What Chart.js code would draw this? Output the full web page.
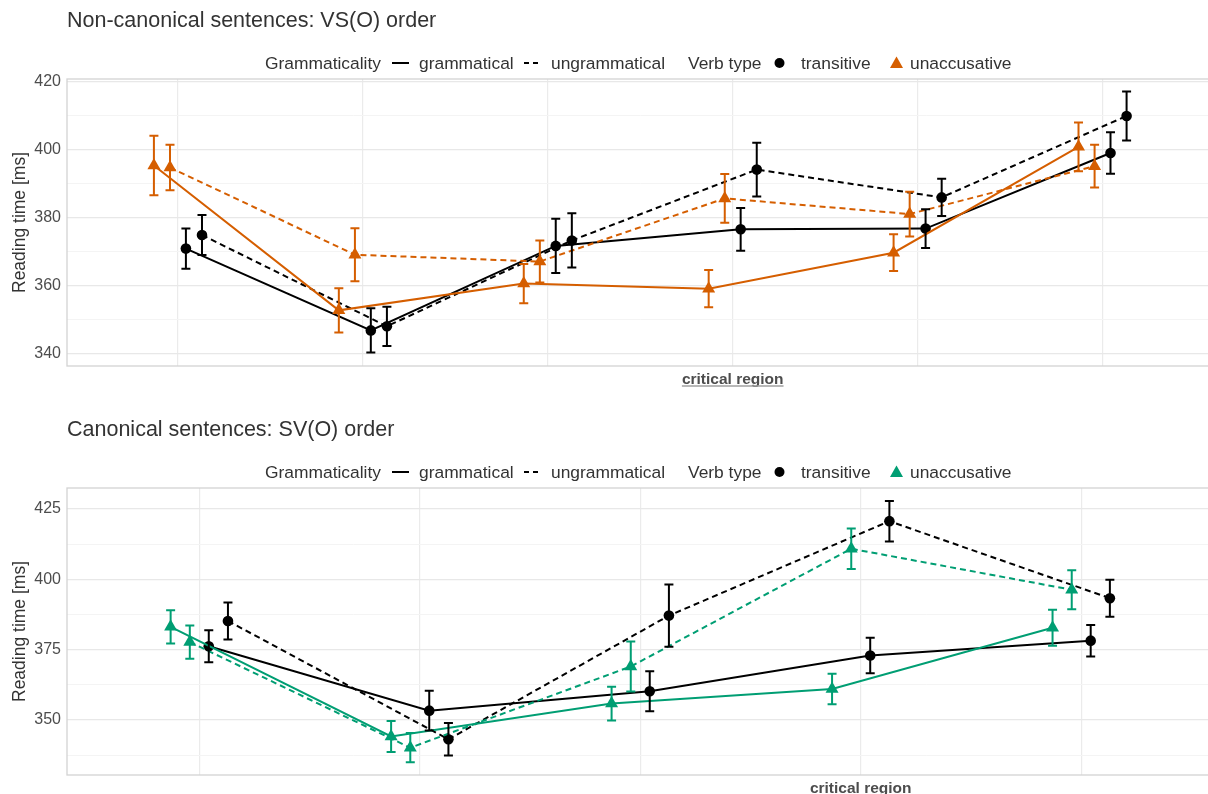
<!DOCTYPE html>
<html><head><meta charset="utf-8">
<script src="https://cdn.jsdelivr.net/npm/chart.js@4.4.1/dist/chart.umd.min.js"></script>
<style>
html,body{margin:0;padding:0;background:#fff;overflow:hidden}
#wrap{position:relative;width:1208px;height:794px;overflow:hidden;background:#fff;font-family:"Liberation Sans",Arial,sans-serif}
.panel{position:absolute;left:0;width:1221px;height:395px}
.title{position:absolute;left:67px;top:10px;font-size:21.5px;line-height:21.5px;color:#333;white-space:nowrap}
.lg{position:absolute;top:54.5px;font-size:17.4px;line-height:17.4px;color:#333;white-space:nowrap}
.key{position:absolute;top:55px}
canvas{position:absolute;left:0;top:0}
</style></head><body>
<div id="wrap">
  <div class="panel" style="top:0">
    <canvas id="c1" width="1221" height="395"></canvas>
    <div class="title">Non-canonical sentences: VS(O) order</div>
    <div class="lg" style="left:265px">Grammaticality</div>
    <svg class="key" style="left:392px" width="17" height="16"><line x1="0" y1="8" x2="17" y2="8" stroke="#000" stroke-width="2"/></svg>
    <div class="lg" style="left:419px">grammatical</div>
    <svg class="key" style="left:524px" width="17" height="16"><line x1="0" y1="8" x2="17" y2="8" stroke="#000" stroke-width="2" stroke-dasharray="5,4"/></svg>
    <div class="lg" style="left:551px">ungrammatical</div>
    <div class="lg" style="left:688px">Verb type</div>
    <svg class="key" style="left:771px" width="17" height="16"><circle cx="8.5" cy="8" r="5" fill="#000"/></svg>
    <div class="lg" style="left:801px">transitive</div>
    <svg class="key" style="left:888px" width="17" height="16"><polygon points="8.5,1.5 15,13 2,13" fill="#D55E00"/></svg>
    <div class="lg" style="left:910px">unaccusative</div>
  </div>
  <div class="panel" style="top:409px">
    <canvas id="c2" width="1221" height="395"></canvas>
    <div class="title">Canonical sentences: SV(O) order</div>
    <div class="lg" style="left:265px">Grammaticality</div>
    <svg class="key" style="left:392px" width="17" height="16"><line x1="0" y1="8" x2="17" y2="8" stroke="#000" stroke-width="2"/></svg>
    <div class="lg" style="left:419px">grammatical</div>
    <svg class="key" style="left:524px" width="17" height="16"><line x1="0" y1="8" x2="17" y2="8" stroke="#000" stroke-width="2" stroke-dasharray="5,4"/></svg>
    <div class="lg" style="left:551px">ungrammatical</div>
    <div class="lg" style="left:688px">Verb type</div>
    <svg class="key" style="left:771px" width="17" height="16"><circle cx="8.5" cy="8" r="5" fill="#000"/></svg>
    <div class="lg" style="left:801px">transitive</div>
    <svg class="key" style="left:888px" width="17" height="16"><polygon points="8.5,1.5 15,13 2,13" fill="#009E73"/></svg>
    <div class="lg" style="left:910px">unaccusative</div>
  </div>
</div>
<script>
// ---- tick labels / axes ----
const topTickLabels = ["", "", "", "critical region", "", ""];
const bottomTickLabels = ["", "", "", "critical region", ""];
const topYGrid = [340, 350, 360, 370, 380, 390, 400, 410, 420];
const topYLabels = [340, 360, 380, 400, 420];
const bottomYGrid = [337.5, 350, 362.5, 375, 387.5, 400, 412.5, 425];
const bottomYLabels = [350, 375, 400, 425];

// ---- Non-canonical (VS(O)) : means and error half-widths ----
const topTransGram      = [370.9, 346.8, 371.7, 376.6, 376.8, 399.1];
const topTransGramErr   = [5.9, 6.5, 8.0, 6.3, 5.7, 6.1];
const topTransUngram    = [374.9, 348.0, 373.3, 394.2, 386.0, 410.0];
const topTransUngramErr = [5.9, 5.8, 8.0, 7.9, 5.5, 7.2];
const topUnaccGram      = [395.4, 352.7, 360.6, 359.1, 369.7, 400.9];
const topUnaccGramErr   = [8.8, 6.5, 5.8, 5.5, 5.4, 7.2];
const topUnaccUngram    = [394.8, 369.1, 367.1, 385.7, 381.1, 395.2];
const topUnaccUngramErr = [6.7, 7.8, 6.2, 7.2, 6.6, 6.3];

// ---- Canonical (SV(O)) ----
const botTransGram      = [376.2, 353.3, 360.2, 372.9, 378.2];
const botTransGramErr   = [5.7, 7.1, 7.1, 6.3, 5.6];
const botTransUngram    = [385.2, 343.1, 387.1, 420.7, 393.3];
const botTransUngramErr = [6.6, 5.8, 11.1, 7.2, 6.6];
const botUnaccGram      = [383.1, 344.1, 355.8, 361.0, 382.8];
const botUnaccGramErr   = [5.9, 5.5, 6.0, 5.4, 6.4];
const botUnaccUngram    = [377.7, 340.1, 369.0, 410.9, 396.3];
const botUnaccUngramErr = [5.9, 5.2, 8.9, 7.2, 6.9];

// dodge offsets (position_dodge)
const dodge = {unaccGram: -0.13, unaccUngram: -0.043, transGram: 0.043, transUngram: 0.13};

const FONT = '"Liberation Sans", Arial, sans-serif';

function series(values, errs, off, color, dashed, marker) {
  return {
    data: values.map((v, i) => ({x: i + 1 + off, y: v})),
    errors: errs,
    borderColor: color,
    backgroundColor: color,
    borderWidth: 2,
    borderDash: dashed ? [6, 4] : [],
    pointStyle: marker,
    pointRadius: marker === 'triangle' ? 7.5 : 5.3,
    pointBackgroundColor: color,
    pointBorderWidth: 0,
    tension: 0,
    fill: false
  };
}

const errorBarPlugin = {
  id: 'errorBars',
  afterDatasetsDraw(chart) {
    const ctx = chart.ctx, ys = chart.scales.y;
    chart.data.datasets.forEach((ds, i) => {
      const meta = chart.getDatasetMeta(i);
      ctx.save();
      ctx.strokeStyle = ds.borderColor;
      ctx.lineWidth = 2;
      ctx.setLineDash([]);
      meta.data.forEach((pt, j) => {
        const v = ds.data[j].y, e = ds.errors[j];
        const y1 = ys.getPixelForValue(v + e), y2 = ys.getPixelForValue(v - e);
        ctx.beginPath();
        ctx.moveTo(pt.x, y1); ctx.lineTo(pt.x, y2);
        ctx.moveTo(pt.x - 4.5, y1); ctx.lineTo(pt.x + 4.5, y1);
        ctx.moveTo(pt.x - 4.5, y2); ctx.lineTo(pt.x + 4.5, y2);
        ctx.stroke();
      });
      ctx.restore();
    });
  }
};

const borderPlugin = {
  id: 'panelBorder',
  beforeDatasetsDraw(chart) {
    const a = chart.chartArea, ctx = chart.ctx;
    ctx.save();
    ctx.strokeStyle = '#d3d3d3';
    ctx.lineWidth = 1.3;
    ctx.strokeRect(a.left, a.top, a.right - a.left, a.bottom - a.top);
    ctx.restore();
  }
};

const underlinePlugin = {
  id: 'labelUnderline',
  afterDraw(chart, args, opts) {
    if (!opts || !opts.enabled) return;
    const xs = chart.scales.x, ctx = chart.ctx;
    const idx = opts.labels.indexOf('critical region');
    const px = xs.getPixelForValue(idx + 1);
    ctx.save();
    ctx.font = 'bold 15.5px ' + FONT;
    const w = ctx.measureText('critical region').width;
    ctx.strokeStyle = '#a0a0a0';
    ctx.lineWidth = 1.5;
    ctx.beginPath();
    ctx.moveTo(px - w / 2, xs.top + 20);
    ctx.lineTo(px + w / 2, xs.top + 20);
    ctx.stroke();
    ctx.restore();
  }
};

function makeChart(id, cfg) {
  return new Chart(document.getElementById(id), {
    type: 'line',
    data: {datasets: cfg.datasets},
    options: {
      responsive: false,
      animation: false,
      devicePixelRatio: 1,
      layout: {padding: {top: 79, left: 0, right: 0, bottom: 0}},
      plugins: {
        legend: {display: false},
        tooltip: {enabled: false},
        labelUnderline: {enabled: cfg.underline, labels: cfg.tickLabels}
      },
      scales: {
        x: {
          type: 'linear',
          min: 0.4,
          max: cfg.tickLabels.length + 0.6,
          afterBuildTicks: s => { s.ticks = cfg.tickLabels.map((_, i) => ({value: i + 1})); },
          afterFit: s => { s.height = 29; },
          ticks: {
            autoSkip: false, maxRotation: 0, minRotation: 0, padding: 4,
            color: '#4d4d4d',
            font: {family: FONT, size: 15.5, weight: 'bold'},
            callback: v => cfg.tickLabels[Math.round(v) - 1] ?? ''
          },
          grid: {color: '#ebebeb', lineWidth: 1.2, drawTicks: false},
          border: {display: false}
        },
        y: {
          min: cfg.yMin,
          max: cfg.yMax,
          afterBuildTicks: s => { s.ticks = cfg.yGrid.map(v => ({value: v})); },
          afterFit: s => { s.width = 67; },
          ticks: {
            padding: 6,
            color: '#4d4d4d',
            font: {family: FONT, size: 16},
            callback: v => cfg.yLabels.includes(v) ? String(v) : ''
          },
          grid: {
            drawTicks: false,
            color: c => (c.tick && cfg.yLabels.includes(c.tick.value)) ? '#e8e8e8' : '#f4f4f4',
            lineWidth: c => (c.tick && cfg.yLabels.includes(c.tick.value)) ? 1.2 : 1
          },
          border: {display: false},
          title: {
            display: true, text: 'Reading time [ms]', color: '#333',
            font: {family: FONT, size: 17.5}, padding: {top: 10, bottom: 0}
          }
        }
      }
    },
    plugins: [borderPlugin, errorBarPlugin, underlinePlugin]
  });
}

const ORANGE = '#D55E00', GREEN = '#009E73', BLACK = '#000000';

makeChart('c1', {
  tickLabels: topTickLabels, yGrid: topYGrid, yLabels: topYLabels,
  yMin: 336.3, yMax: 420.9, underline: true,
  datasets: [
    series(topUnaccGram, topUnaccGramErr, dodge.unaccGram, ORANGE, false, 'triangle'),
    series(topUnaccUngram, topUnaccUngramErr, dodge.unaccUngram, ORANGE, true, 'triangle'),
    series(topTransGram, topTransGramErr, dodge.transGram, BLACK, false, 'circle'),
    series(topTransUngram, topTransUngramErr, dodge.transUngram, BLACK, true, 'circle')
  ]
});

makeChart('c2', {
  tickLabels: bottomTickLabels, yGrid: bottomYGrid, yLabels: bottomYLabels,
  yMin: 330.4, yMax: 432.5, underline: false,
  datasets: [
    series(botUnaccGram, botUnaccGramErr, dodge.unaccGram, GREEN, false, 'triangle'),
    series(botUnaccUngram, botUnaccUngramErr, dodge.unaccUngram, GREEN, true, 'triangle'),
    series(botTransGram, botTransGramErr, dodge.transGram, BLACK, false, 'circle'),
    series(botTransUngram, botTransUngramErr, dodge.transUngram, BLACK, true, 'circle')
  ]
});
</script>
</body></html>
